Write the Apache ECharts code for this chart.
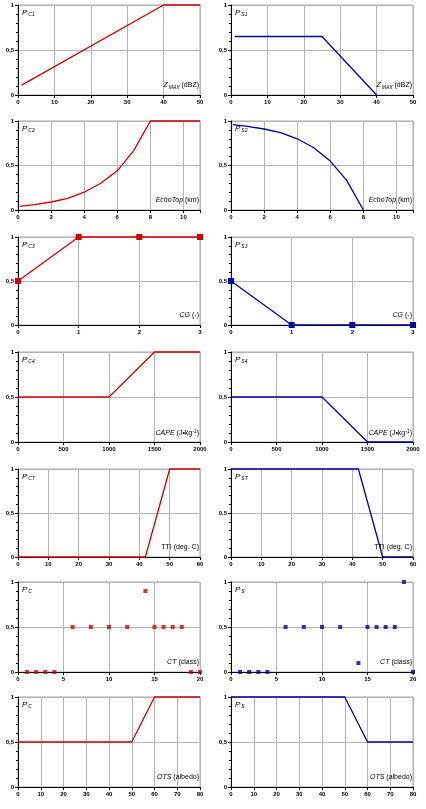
<!DOCTYPE html>
<html><head><meta charset="utf-8">
<script src="https://cdn.jsdelivr.net/npm/echarts@6/dist/echarts.min.js"></script>
<style>html,body{margin:0;padding:0;background:#fff}#c{width:426px;height:809px}</style>
</head><body><div id="c"></div>
<script>
// Row 1: Z_MAX (dBZ)
const zmaxC_x = [1, 40, 50];
const zmaxC_y = [0.11, 1, 1];
const zmaxS_x = [1, 25, 40];
const zmaxS_y = [0.65, 0.65, 0];
// Row 2: EchoTop (km)
const echoC_x = [0.1, 1, 2, 3, 4, 5, 6, 7, 8, 11];
const echoC_y = [0.04, 0.06, 0.09, 0.13, 0.2, 0.3, 0.44, 0.67, 1, 1];
const echoS_x = [0.1, 1, 2, 3, 4, 5, 6, 7, 8];
const echoS_y = [0.96, 0.94, 0.91, 0.87, 0.8, 0.7, 0.55, 0.33, 0];
// Row 3: CG (-)
const cg_x = [0, 1, 2, 3];
const cgC_y = [0.5, 1, 1, 1];
const cgS_y = [0.5, 0, 0, 0];
// Row 4: CAPE
const cape_x = [0, 1000, 1500, 2000];
const capeC_y = [0.5, 0.5, 1, 1];
const capeS_y = [0.5, 0.5, 0, 0];
// Row 5: TTI
const tti_x = [0, 42, 50, 60];
const ttiC_y = [0, 0, 1, 1];
const ttiS_y = [1, 1, 0, 0];
// Row 6: CT (class)
const ct_x = [1, 2, 3, 4, 6, 8, 10, 12, 14, 15, 16, 17, 18, 19, 20];
const ctC_y = [0, 0, 0, 0, 0.5, 0.5, 0.5, 0.5, 0.9, 0.5, 0.5, 0.5, 0.5, 0, 0];
const ctS_y = [0, 0, 0, 0, 0.5, 0.5, 0.5, 0.5, 0.1, 0.5, 0.5, 0.5, 0.5, 1, 0];
// Row 7: OTS (albedo)
const ots_x = [0, 50, 60, 80];
const otsC_y = [0.5, 0.5, 1, 1];
const otsS_y = [1, 1, 0.5, 0.5];

// axis ranges [min, max, interval]
const xRanges = [[0, 50, 10], [0, 11, 2], [0, 3, 1], [0, 2000, 500], [0, 60, 10], [0, 20, 5], [0, 80, 10]];
const yRange = [0, 1, 0.5];

const cLabels = [['C1'], ['C2'], ['C3'], ['C4'], ['CT'], ['C'], ['C']];
const sLabels = [['S1'], ['S2'], ['S3'], ['S4'], ['ST'], ['S'], ['S']];
const xNames = [
  '{i|Z}{sub|MAX}{n| (dBZ)}',
  '{i|EchoTop}{n| (km)}',
  '{i|CG}{n| (-)}',
  '{i|CAPE}{n| (J•kg}{sup|-1}{n|)}',
  '{n|TTI (deg. C)}',
  '{i|CT}{n| (class)}',
  '{i|OTS}{n| (albedo)}'
];

const RED = '#d40000', BLUE = '#0000a8';
const panels = [
  [{x: zmaxC_x, y: zmaxC_y, kind: 'line'}, {x: zmaxS_x, y: zmaxS_y, kind: 'line'}],
  [{x: echoC_x, y: echoC_y, kind: 'line'}, {x: echoS_x, y: echoS_y, kind: 'line'}],
  [{x: cg_x, y: cgC_y, kind: 'sym'}, {x: cg_x, y: cgS_y, kind: 'sym'}],
  [{x: cape_x, y: capeC_y, kind: 'line'}, {x: cape_x, y: capeS_y, kind: 'line'}],
  [{x: tti_x, y: ttiC_y, kind: 'line'}, {x: tti_x, y: ttiS_y, kind: 'line'}],
  [{x: ct_x, y: ctC_y, kind: 'scatter'}, {x: ct_x, y: ctS_y, kind: 'scatter'}],
  [{x: ots_x, y: otsC_y, kind: 'line'}, {x: ots_x, y: otsS_y, kind: 'line'}]
];

const rowTops = [5, 121, 237, 352, 469, 582, 697];
const rowBots = [95, 210, 325, 442, 557, 672, 787];
const colLeft = [18, 231];
const plotW = 182;
const FONT = 'Liberation Sans, Arial, sans-serif';

const grids = [], xAxes = [], yAxes = [], series = [], graphics = [];
let idx = 0;
for (let r = 0; r < 7; r++) {
  for (let c = 0; c < 2; c++) {
    const top = rowTops[r], h = rowBots[r] - rowTops[r], left = colLeft[c];
    grids.push({left: left, top: top, width: plotW, height: h, show: true,
      borderColor: '#a8a8a8', borderWidth: 1, containLabel: false});
    const [mn, mx, iv] = xRanges[r];
    xAxes.push({type: 'value', gridIndex: idx, min: mn, max: mx, interval: iv,
      axisLine: {show: true, onZero: false, lineStyle: {color: '#000', width: 1}},
      axisTick: {show: true, length: 3, lineStyle: {color: '#000'}},
      axisLabel: {fontSize: 6, color: '#000', margin: 4, fontFamily: FONT, fontWeight: 'bold',
        formatter: v => (Math.abs(v / iv - Math.round(v / iv)) < 1e-9 ? String(v) : '')},
      splitLine: {show: true, lineStyle: {color: '#b4b4b4', width: 1}}});
    yAxes.push({type: 'value', gridIndex: idx, min: yRange[0], max: yRange[1], interval: yRange[2],
      axisLine: {show: true, onZero: false, lineStyle: {color: '#000', width: 1}},
      axisTick: {show: true, length: 3, lineStyle: {color: '#000'}},
      minorTick: {show: true, splitNumber: 5, length: 2, lineStyle: {color: '#000'}},
      axisLabel: {fontSize: 6, color: '#000', margin: 4, fontFamily: FONT, fontWeight: 'bold',
        formatter: v => String(v).replace('.', ',')},
      splitLine: {show: true, lineStyle: {color: '#b4b4b4', width: 1}}});
    const p = panels[r][c];
    const col = c === 0 ? RED : BLUE;
    const data = p.x.map((xv, k) => [xv, p.y[k]]);
    if (p.kind === 'scatter') {
      series.push({type: 'scatter', xAxisIndex: idx, yAxisIndex: idx, data: data,
        symbol: 'rect', symbolSize: 4, itemStyle: {color: col}, clip: false});
    } else {
      series.push({type: 'line', xAxisIndex: idx, yAxisIndex: idx, data: data,
        showSymbol: p.kind === 'sym', symbol: 'rect', symbolSize: 6,
        itemStyle: {color: col}, lineStyle: {color: col, width: 1.3}, clip: false, animation: false});
    }
    // panel label
    const sub = (c === 0 ? cLabels : sLabels)[r][0];
    graphics.push({type: 'text', left: left + 4, top: top + 4, z: 100,
      style: {text: '{p|P}{s|' + sub + '}', fill: '#000',
        rich: {p: {fontSize: 8, fontStyle: 'italic', fontFamily: FONT, fill: '#000'},
               s: {fontSize: 5, fontStyle: 'italic', fontFamily: FONT, fill: '#000', padding: [4, 0, 0, 1]}}}});
    // axis name
    graphics.push({type: 'text', right: 426 - (left + plotW) + 1, top: rowBots[r] - 13, z: 100,
      style: {text: xNames[r], fill: '#000',
        rich: {i: {fontSize: 7, fontStyle: 'italic', fontFamily: FONT, fill: '#000'},
               n: {fontSize: 7, fontFamily: FONT, fill: '#000'},
               sub: {fontSize: 5, fontStyle: 'italic', fontFamily: FONT, fill: '#000', padding: [4, 0, 0, 1]},
               sup: {fontSize: 5, fontFamily: FONT, fill: '#000', padding: [0, 0, 4, 0]}}}});
    idx++;
  }
}

const chart = echarts.init(document.getElementById('c'), null, {renderer: 'canvas'});
chart.setOption({animation: false, backgroundColor: '#fff', grid: grids, xAxis: xAxes, yAxis: yAxes,
  series: series, graphic: graphics});
</script></body></html>
